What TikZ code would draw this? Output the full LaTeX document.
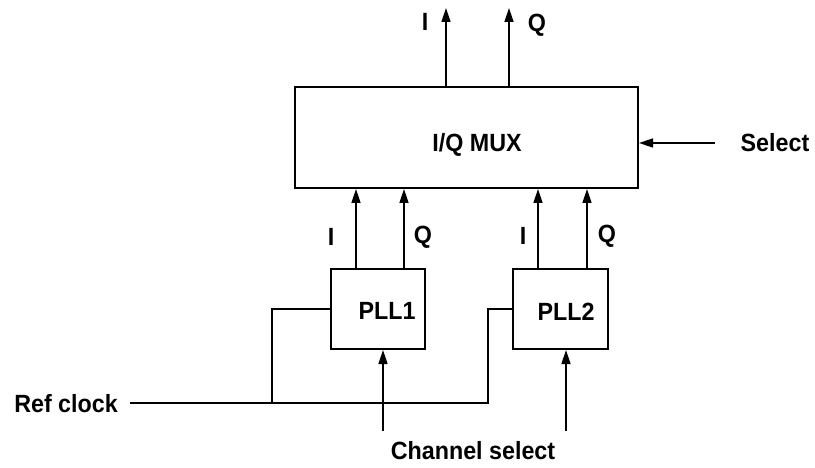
\documentclass[tikz,border=0pt]{standalone}
\usepackage{fontspec}
\setmainfont{Liberation Sans}[FakeStretch=0.935]
\usetikzlibrary{arrows.meta}
\begin{document}
\begin{tikzpicture}[x=1bp,y=-1bp,
  box/.style={draw,line width=2bp,inner sep=0pt},
  lbl/.style={font=\fontsize{25}{29}\selectfont\bfseries,inner sep=0pt},
  wire/.style={line width=1.6bp},
  arr/.style={wire,-{Triangle[length=14bp,width=9bp]}}]
\useasboundingbox (0,0) rectangle (815,468);
% blocks
\node[box,minimum width=343bp,minimum height=101bp] (mux) at (466.5,137.5) {};
\node[lbl] (muxt) at (477,145) {I/Q MUX};
\node[box,minimum width=94bp,minimum height=80bp] (pll1) at (378,309) {};
\node[lbl] (pll1t) at (387,311) {PLL1};
\node[box,minimum width=95bp,minimum height=80bp] (pll2) at (560.5,309) {};
\node[lbl] (pll2t) at (566,312) {PLL2};
% labels
\node[lbl] (ti) at (425,22) {I};
\node[lbl] (tq) at (537,25) {Q};
\node[lbl] (sel) at (775,143) {Select};
\node[lbl] (i1) at (331,237) {I};
\node[lbl] (q1) at (423,237) {Q};
\node[lbl] (i2) at (523,236) {I};
\node[lbl] (q2) at (607,236) {Q};
\node[lbl,anchor=east] (ref) at (118,404) {Ref clock};
\node[lbl] (cs) at (473,451) {Channel select};
% coordinates
\coordinate (oi) at (446,8);
\coordinate (oq) at (509,8);
\coordinate (sels) at (715,143);
\coordinate (a1) at (356,0);
\coordinate (b1) at (404,0);
\coordinate (a2) at (538,0);
\coordinate (b2) at (587,0);
\coordinate (rs) at (130,403);
\coordinate (j1) at (272,403);
\coordinate (j2) at (488,403);
\coordinate (c1) at (383,431);
\coordinate (c2) at (566,431);
% connectors
\draw[arr] (mux.north -| oi) -- (oi);
\draw[arr] (mux.north -| oq) -- (oq);
\draw[arr] (sels) -- (mux.east |- sels);
\draw[arr] (pll1.north -| a1) -- (mux.south -| a1);
\draw[arr] (pll1.north -| b1) -- (mux.south -| b1);
\draw[arr] (pll2.north -| a2) -- (mux.south -| a2);
\draw[arr] (pll2.north -| b2) -- (mux.south -| b2);
\draw[wire] (rs) -- (j2) |- (pll2.west);
\draw[wire] (j1) |- (pll1.west);
\draw[arr] (c1) -- (pll1.south -| c1);
\draw[arr] (c2) -- (pll2.south -| c2);
\end{tikzpicture}
\end{document}
